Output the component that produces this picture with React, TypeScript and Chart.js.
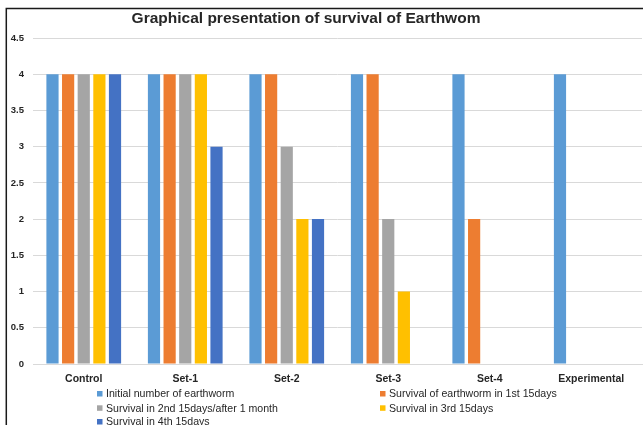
import React, { useEffect, useRef } from "react";
import { Chart, registerables } from "chart.js";

Chart.register(...registerables);

const categories = ["Control", "Set-1", "Set-2", "Set-3", "Set-4", "Experimental"];
const seriesNames = [
  "Initial number of earthworm",
  "Survival of earthworm in 1st 15days",
  "Survival in 2nd 15days/after 1 month",
  "Survival in 3rd 15days",
  "Survival in 4th 15days",
];
const initialCount = [4, 4, 4, 4, 4, 4];
const firstFortnight = [4, 4, 4, 4, 2, 0];
const secondFortnight = [4, 4, 3, 2, 0, 0];
const thirdFortnight = [4, 4, 2, 1, 0, 0];
const fourthFortnight = [4, 3, 2, 0, 0, 0];
const seriesColors = ["#5B9BD5", "#ED7D31", "#A5A5A5", "#FFC000", "#4472C4"];
const titleText = "Graphical presentation of survival of Earthwom";

const FONT = "'Liberation Sans', Arial, sans-serif";

const decorPlugin = {
  id: "decor",
  afterDraw(chart: any) {
    const ctx = chart.ctx as CanvasRenderingContext2D;
    ctx.save();
    // frame lines (top & left)
    ctx.strokeStyle = "#1a1a1a";
    ctx.lineWidth = 1.5;
    ctx.beginPath();
    ctx.moveTo(6.3, 425);
    ctx.lineTo(6.3, 8.5);
    ctx.lineTo(643, 8.5);
    ctx.stroke();
    // title
    ctx.fillStyle = "#262626";
    ctx.font = `bold 15.5px ${FONT}`;
    ctx.textAlign = "center";
    ctx.textBaseline = "middle";
    ctx.fillText(titleText, 306, 19);
    // legend
    const cols = [97, 380];
    const rows = [394, 408.3, 422];
    ctx.font = `10.6px ${FONT}`;
    ctx.textAlign = "left";
    chart.data.datasets.forEach((ds: any, i: number) => {
      const x = cols[i % 2];
      const y = rows[Math.floor(i / 2)];
      ctx.fillStyle = ds.backgroundColor;
      ctx.fillRect(x, y - 3, 5.5, 5.5);
      ctx.fillStyle = "#262626";
      ctx.fillText(ds.label, x + 9, y + 0.5);
    });
    ctx.restore();
  },
};

export default function App() {
  const ref = useRef<HTMLCanvasElement>(null);
  useEffect(() => {
    document.body.style.margin = "0";
    const series = [initialCount, firstFortnight, secondFortnight, thirdFortnight, fourthFortnight];
    const chart = new Chart(ref.current!, {
      type: "bar",
      data: {
        labels: categories,
        datasets: series.map((d, i) => ({
          label: seriesNames[i],
          data: d,
          backgroundColor: seriesColors[i],
          categoryPercentage: 0.77,
          barPercentage: 0.78,
        })),
      },
      options: {
        animation: false,
        responsive: false,
        layout: { padding: { top: 38, right: 1, left: 0, bottom: 0 } },
        plugins: {
          legend: { display: false },
          title: { display: false },
          tooltip: { enabled: false },
        },
        scales: {
          x: {
            grid: { display: false, drawTicks: false },
            border: { display: true, color: "#d9d9d9", width: 1 },
            ticks: { padding: 9, color: "#262626", font: { family: FONT, size: 10.5, weight: "bold" } },
            afterFit: (s: any) => {
              s.height = 61;
            },
          },
          y: {
            min: 0,
            max: 4.5,
            ticks: {
              stepSize: 0.5,
              padding: 9,
              color: "#262626",
              font: { family: FONT, size: 9.5, weight: "bold" },
              callback: (v: any) => String(Number(v)),
            },
            grid: { color: "#d9d9d9", drawTicks: false },
            border: { display: false },
            afterFit: (s: any) => {
              s.width = 33;
            },
          },
        },
      },
      plugins: [decorPlugin],
    });
    return () => chart.destroy();
  }, []);
  return <canvas ref={ref} width={643} height={425} style={{ display: "block", width: 643, height: 425 }} />;
}
